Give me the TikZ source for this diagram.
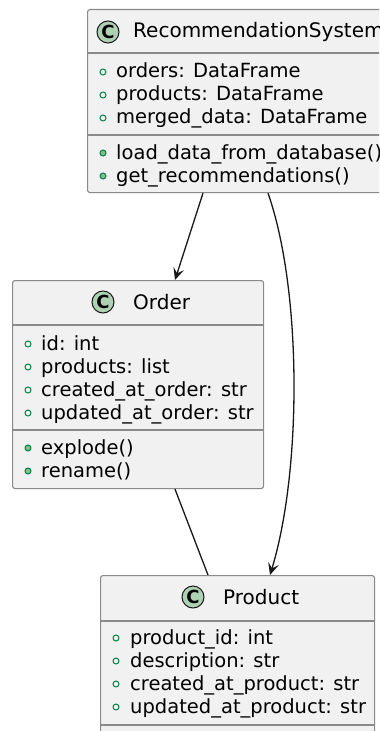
\documentclass[tikz,border=0pt]{standalone}
\usepackage{fontspec}
\setmainfont{DejaVu Sans}
\usepackage{tikz}
\usetikzlibrary{arrows.meta}

\definecolor{boxfill}{HTML}{F1F1F1}
\definecolor{boxline}{HTML}{8A8A8A}
\definecolor{badgefill}{HTML}{ADD1B2}
\definecolor{iconline}{HTML}{038048}
\definecolor{iconfill}{HTML}{84BE84}
\definecolor{linkcol}{HTML}{181818}

\begin{document}
\begin{tikzpicture}[
  x=1bp, y=-1bp,
  classbox/.style={
    draw=boxline, fill=boxfill, line width=1.1bp,
    rounded corners=2.5bp, anchor=north west, inner sep=0pt
  },
  sepline/.style={draw=boxline, line width=1.1bp},
  badge/.style={
    circle, draw=linkcol, fill=badgefill, line width=1bp,
    minimum size=22bp, inner sep=0pt,
    font=\fontsize{18bp}{18bp}\selectfont\bfseries
  },
  title/.style={anchor=base west, inner sep=0pt,
    font=\fontsize{20bp}{23bp}\selectfont},
  member/.style={anchor=base west, inner sep=0pt,
    font=\fontsize{19.5bp}{23bp}\selectfont},
  fieldicon/.style={draw=iconline, line width=1bp},
  methodicon/.style={draw=iconline, fill=iconfill, line width=1bp},
  link/.style={draw=linkcol, line width=1.3bp},
  arr/.style={-{Stealth[length=12bp, width=11bp, inset=5bp]}}
]
  \useasboundingbox (0,0) rectangle (379,731);
  \clip (0,0) rectangle (379,731);

  % class boxes
  \node[classbox, minimum width=300bp, minimum height=183bp] (rs) at (87,9) {};
  \node[classbox, minimum width=251bp, minimum height=208bp] (order) at (12,280) {};
  \node[classbox, minimum width=274bp, minimum height=190bp] (product) at (100,575) {};

  % RecommendationSystem
  \node[badge] (rs-c) at (108,32) {C};
  \node[title] (rs-name) at (133,38) {RecommendationSystem};
  \draw[sepline] (rs.west |- 0,53) -- (rs.east |- 0,53);
  \draw[sepline] (rs.west |- 0,135) -- (rs.east |- 0,135);
  \foreach \y/\txt in {78/orders: DataFrame, 101/products: DataFrame,
                       124/merged\_data: DataFrame} {
    \node[member] (rs-f\y) at (116,\y) {\txt};
    \draw[fieldicon] (103,\y-6) circle (3bp);
  }
  \foreach \y/\txt in {159/load\_data\_from\_database(),
                       182/get\_recommendations()} {
    \node[member] (rs-m\y) at (116,\y) {\txt};
    \draw[methodicon] (103,\y-6) circle (3bp);
  }

  % Order
  \node[badge] (order-c) at (103,302) {C};
  \node[title] (order-name) at (133,309) {Order};
  \draw[sepline] (order.west |- 0,325) -- (order.east |- 0,325);
  \draw[sepline] (order.west |- 0,430) -- (order.east |- 0,430);
  \foreach \y/\txt in {350/id: int, 373/products: list,
                       396/created\_at\_order: str, 419/updated\_at\_order: str} {
    \node[member] (order-f\y) at (41,\y) {\txt};
    \draw[fieldicon] (28,\y-6) circle (3bp);
  }
  \foreach \y/\txt in {454/explode(), 477/rename()} {
    \node[member] (order-m\y) at (41,\y) {\txt};
    \draw[methodicon] (28,\y-6) circle (3bp);
  }

  % Product
  \node[badge] (product-c) at (193,597) {C};
  \node[title] (product-name) at (223,604) {Product};
  \draw[sepline] (product.west |- 0,621) -- (product.east |- 0,621);
  \draw[sepline] (product.west |- 0,725) -- (product.east |- 0,725);
  \foreach \y/\txt in {644/product\_id: int, 667/description: str,
                       690/created\_at\_product: str, 713/updated\_at\_product: str} {
    \node[member] (product-f\y) at (130,\y) {\txt};
    \draw[fieldicon] (116,\y-6) circle (3bp);
  }

  % links
  \draw[link, arr] (rs.south -| 203,0) -- (order.north -| 175,0);
  \draw[link, arr] (rs.south -| 268,0)
    .. controls (302,290) and (302,470) .. (product.north -| 270,0);
  \draw[link] (order.south -| 175,0) -- (product.north -| 208,0);
\end{tikzpicture}
\end{document}
